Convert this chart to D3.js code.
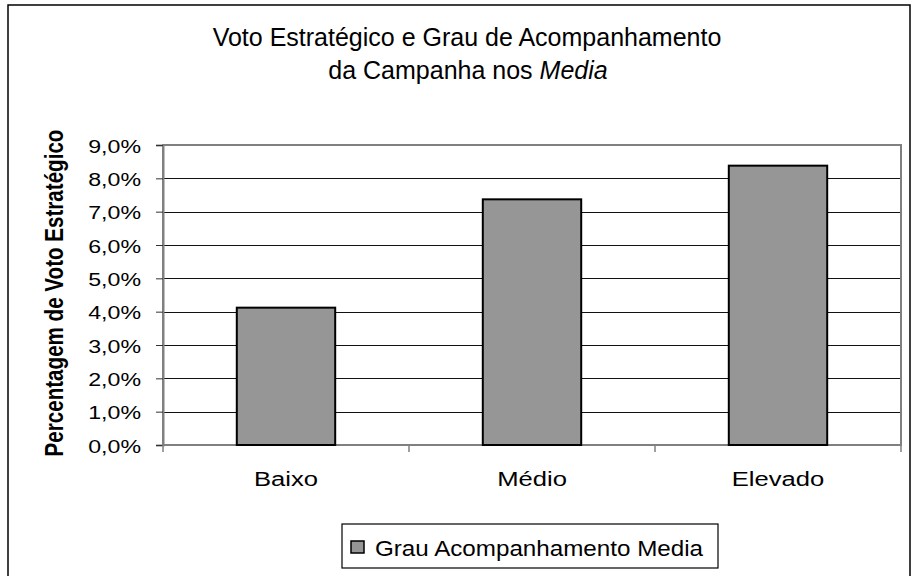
<!DOCTYPE html>
<html>
<head>
<meta charset="utf-8">
<script src="https://cdn.jsdelivr.net/npm/d3@7/dist/d3.min.js"></script>
<style>
  html, body { margin: 0; padding: 0; background: #fff; }
  svg { display: block; font-family: Arial, "Liberation Sans", sans-serif; }
</style>
</head>
<body>
<svg id="chart" width="912" height="576"></svg>
<script>
const categories = ["Baixo", "Médio", "Elevado"];
const values = [4.12, 7.37, 8.38];
const seriesName = "Grau Acompanhamento Media";
const yTicks = [0, 1, 2, 3, 4, 5, 6, 7, 8, 9];
const titleLine1 = "Voto Estratégico e Grau de Acompanhamento";
const titleLine2a = "da Campanha nos ";
const titleLine2b = "Media";
const yAxisTitle = "Percentagem de Voto Estratégico";

const svg = d3.select("#chart");
const W = 912, H = 576;
const plot = { left: 163, right: 901, top: 145, bottom: 445 };
const SX = 1.22; // horizontal glyph stretch seen in the reference

svg.append("rect").attr("width", W).attr("height", H).attr("fill", "#fff");
// outer chart border
svg.append("rect").attr("x", 8).attr("y", 5).attr("width", 902).attr("height", 620)
  .attr("fill", "none").attr("stroke", "#000").attr("stroke-width", 1.5);

const x = d3.scaleBand().domain(categories).range([plot.left, plot.right])
  .paddingInner(0.6).paddingOuter(0.3);
const y = d3.scaleLinear().domain([0, 9]).range([plot.bottom, plot.top]);

// gridlines
svg.append("g").selectAll("line").data(yTicks.filter(d => d > 0 && d < 9)).join("line")
  .attr("x1", plot.left).attr("x2", plot.right)
  .attr("y1", d => Math.round(y(d)) + 0.5).attr("y2", d => Math.round(y(d)) + 0.5)
  .attr("stroke", "#111").attr("stroke-width", 1);

// plot area border
svg.append("rect").attr("x", plot.left).attr("y", plot.top)
  .attr("width", plot.right - plot.left).attr("height", plot.bottom - plot.top)
  .attr("fill", "none").attr("stroke", "#808080").attr("stroke-width", 2);

// bars
svg.append("g").selectAll("rect").data(values).join("rect")
  .attr("x", (d, i) => x(categories[i]))
  .attr("y", d => y(d))
  .attr("width", x.bandwidth())
  .attr("height", d => y(0) - y(d))
  .attr("fill", "#969696").attr("stroke", "#000").attr("stroke-width", 2);

// y axis (ticks + domain via d3 axis, labels drawn with stretch)
const fmt = d => d3.format(".1f")(d).replace(".", ",") + "%";
const yAxis = d3.axisLeft(y).tickValues(yTicks).tickFormat("").tickSize(7);
const gy = svg.append("g").attr("transform", `translate(${plot.left},0)`).call(yAxis);
gy.select(".domain").attr("stroke", "#808080").attr("stroke-width", 2);
gy.selectAll(".tick line").attr("stroke", "#333");
gy.selectAll(".tick text").remove();

svg.append("g").selectAll("text").data(yTicks).join("text")
  .attr("transform", d => `translate(141,${y(d) + 7.5}) scale(${SX},1)`)
  .attr("text-anchor", "end").attr("font-size", 19).attr("fill", "#000")
  .text(fmt);

// x axis ticks at band boundaries
const step = x.step();
const bounds = categories.map(c => x(c) - step * x.paddingOuter()).concat([plot.right]);
svg.append("g").selectAll("line").data(bounds).join("line")
  .attr("x1", d => d).attr("x2", d => d)
  .attr("y1", plot.bottom).attr("y2", plot.bottom + 7)
  .attr("stroke", "#808080").attr("stroke-width", 1.5);

svg.append("g").selectAll("text").data(categories).join("text")
  .attr("transform", d => `translate(${x(d) + x.bandwidth() / 2},486) scale(${SX},1)`)
  .attr("text-anchor", "middle").attr("font-size", 21).attr("fill", "#000")
  .text(d => d);

// title
const t = svg.append("g").attr("text-anchor", "middle").attr("font-size", 25).attr("fill", "#000");
t.append("text").attr("x", 467).attr("y", 46).text(titleLine1);
const t2 = t.append("text").attr("x", 468).attr("y", 79);
t2.append("tspan").text(titleLine2a);
t2.append("tspan").attr("font-style", "italic").text(titleLine2b);

// y axis title
svg.append("text")
  .attr("transform", `translate(63,293) scale(${SX},1) rotate(-90)`)
  .attr("text-anchor", "middle").attr("font-size", 20.6).attr("font-weight", "bold")
  .attr("fill", "#000").text(yAxisTitle);

// legend
const lg = svg.append("g");
lg.append("rect").attr("x", 342).attr("y", 524).attr("width", 376).attr("height", 44)
  .attr("fill", "#fff").attr("stroke", "#000").attr("stroke-width", 1.2);
lg.append("rect").attr("x", 351).attr("y", 541).attr("width", 13).attr("height", 12)
  .attr("fill", "#969696").attr("stroke", "#000").attr("stroke-width", 1.5);
lg.append("text").attr("transform", "translate(375,556) scale(1.1,1)")
  .attr("font-size", 22).attr("fill", "#000")
  .text(seriesName);
</script>
</body>
</html>
